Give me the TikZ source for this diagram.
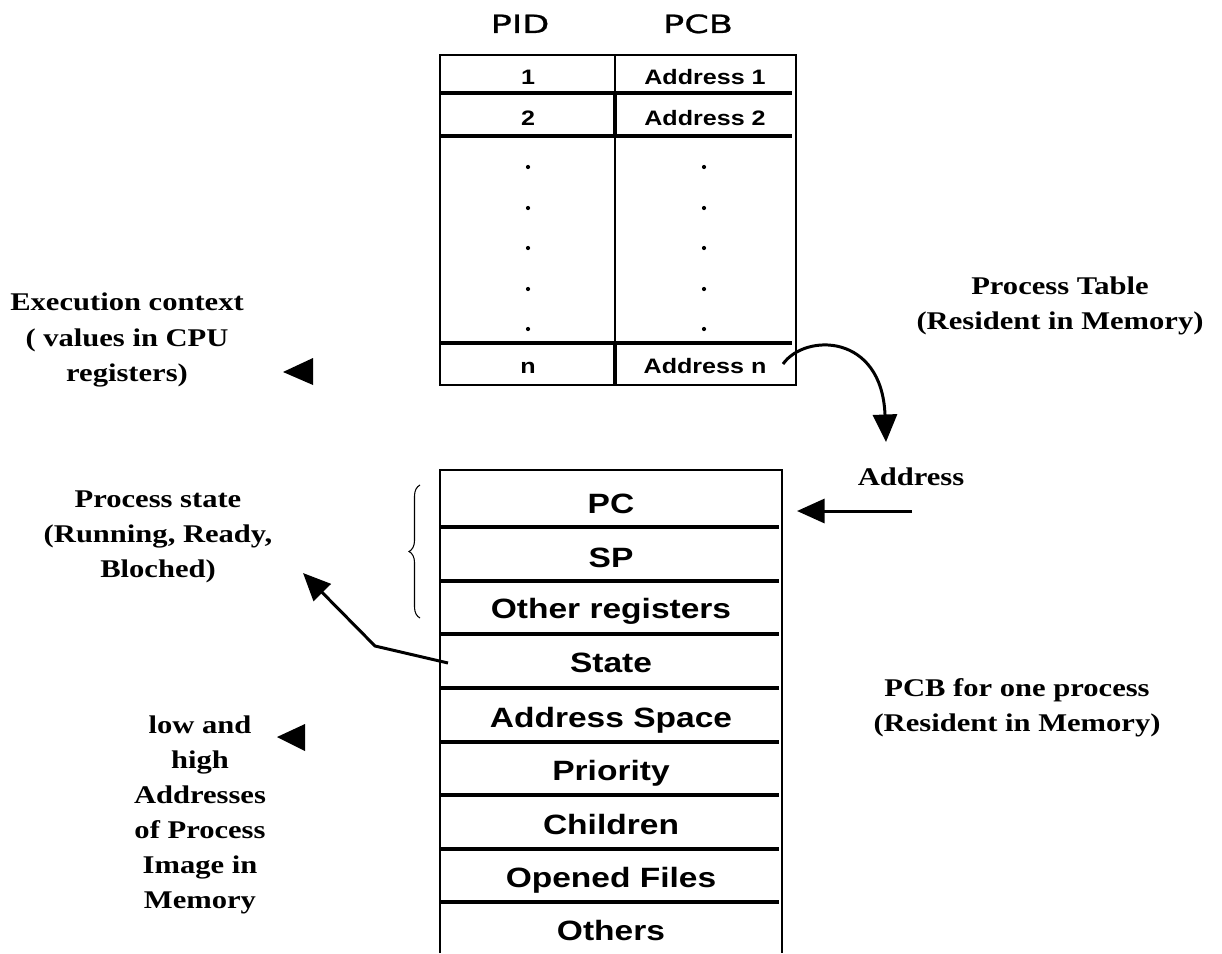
\documentclass[tikz,border=0pt]{standalone}
\usepackage{fontspec}
\usetikzlibrary{arrows.meta,decorations.pathreplacing}
\newfontfamily\arialf[FakeStretch=1.2]{Liberation Sans}
\newfontfamily\timesf[FakeStretch=1.2]{Liberation Serif}
\newfontfamily\headf[FakeStretch=1.4,FakeBold=1]{DejaVu Sans}
\begin{document}
\begin{tikzpicture}[x=0.02cm,y=-0.02cm,
  thinl/.style={line width=1.1pt},
  thickl/.style={line width=2.3pt},
  cell/.style={font=\arialf\bfseries\fontsize{11.9}{14}\selectfont, anchor=base, inner sep=0pt},
  pcbtxt/.style={font=\arialf\bfseries\fontsize{15.9}{19}\selectfont, anchor=base, inner sep=0pt},
  lbl/.style={font=\timesf\bfseries\fontsize{14.5}{20}\selectfont, align=center, inner sep=0pt},
  hdr/.style={font=\headf\fontsize{14.3}{17}\selectfont, anchor=base, inner sep=0pt},
  arr/.style={line width=1.7pt, -{Triangle[length=0.55cm,width=0.48cm]}},
  dotm/.style={fill=black}
]
\useasboundingbox (0,0) rectangle (1222,953);

% ---------- Process table ----------
\node[hdr] (hpid) at (520,33) {PID};
\node[hdr] (hpcb) at (698,33) {PCB};

\draw[thinl] (440,55) rectangle (796,385);
\draw[thinl] (615,55) -- (615,93);
\draw[thickl] (615,93) -- (615,136);
\draw[thinl] (615,136) -- (615,343);
\draw[thickl] (615,343) -- (615,385);
\draw[thickl] (440,93) -- (792,93);
\draw[thickl] (440,136) -- (792,136);
\draw[thickl] (440,343) -- (792,343);

\node[cell] (p1) at (528,85) {1};
\node[cell] (a1) at (705,85) {Address 1};
\node[cell] (p2) at (528,125) {2};
\node[cell] (a2) at (705,125) {Address 2};
\node[cell] (pn) at (528,373) {n};
\node[cell] (an) at (705,373) {Address n};

\foreach \yy in {167,208,248,289,329}{
  \fill[dotm] (528,\yy) circle[radius=1.2pt];
  \fill[dotm] (704,\yy) circle[radius=1.2pt];
}

% ---------- PCB ----------
\draw[thinl] (440,953) -- (440,470) -- (782,470) -- (782,953);
\foreach \yy in {527,581,634,688,742,795,849,902}{
  \draw[thickl] (440,\yy) -- (779,\yy);
}
\node[pcbtxt] (pc) at (611,513) {PC};
\node[pcbtxt] (sp) at (611,567) {SP};
\node[pcbtxt] (oreg) at (611,618) {Other registers};
\node[pcbtxt] (state) at (611,672) {State};
\node[pcbtxt] (aspace) at (611,727) {Address Space};
\node[pcbtxt] (prio) at (611,780) {Priority};
\node[pcbtxt] (child) at (611,834) {Children};
\node[pcbtxt] (ofiles) at (611,887) {Opened Files};
\node[pcbtxt] (others) at (611,940) {Others};

% brace
\draw[line width=0.6pt, decorate, decoration={brace, amplitude=0.22cm}] (420,618) -- (420,485);

% ---------- labels ----------
\node[lbl] (exec) at (127,340) {Execution context\\( values in CPU\\registers)};
\node[lbl] (pstate) at (158,537) {Process state\\(Running, Ready,\\Bloched)};
\node[lbl] (lowhigh) at (200,815) {low and\\high\\Addresses\\of Process\\Image in\\Memory};
\node[lbl] (ptab) at (1060,306) {Process Table\\(Resident in Memory)};
\node[lbl, anchor=base] (addr) at (911,485) {Address};
\node[lbl] (pcbone) at (1017,708) {PCB for one process\\(Resident in Memory)};

% isolated arrow heads
\fill (283,372) -- (313,358) -- (313,385) -- cycle;
\fill (277,737) -- (305,724) -- (305,751) -- cycle;

% ---------- connectors ----------
\coordinate (cstart) at (783,364);
\coordinate (ctip) at (886,442);
\draw[arr] (cstart) .. controls (805,333) and (882,333) .. (ctip);

\coordinate (astart) at (912,511);
\coordinate (atip) at (797,511);
\draw[arr] (astart) -- (atip);

\coordinate (sstart) at (448,663);
\coordinate (sbend) at (375,646);
\coordinate (stip) at (303,573);
\draw[arr] (sstart) -- (sbend) -- (stip);
\end{tikzpicture}
\end{document}
